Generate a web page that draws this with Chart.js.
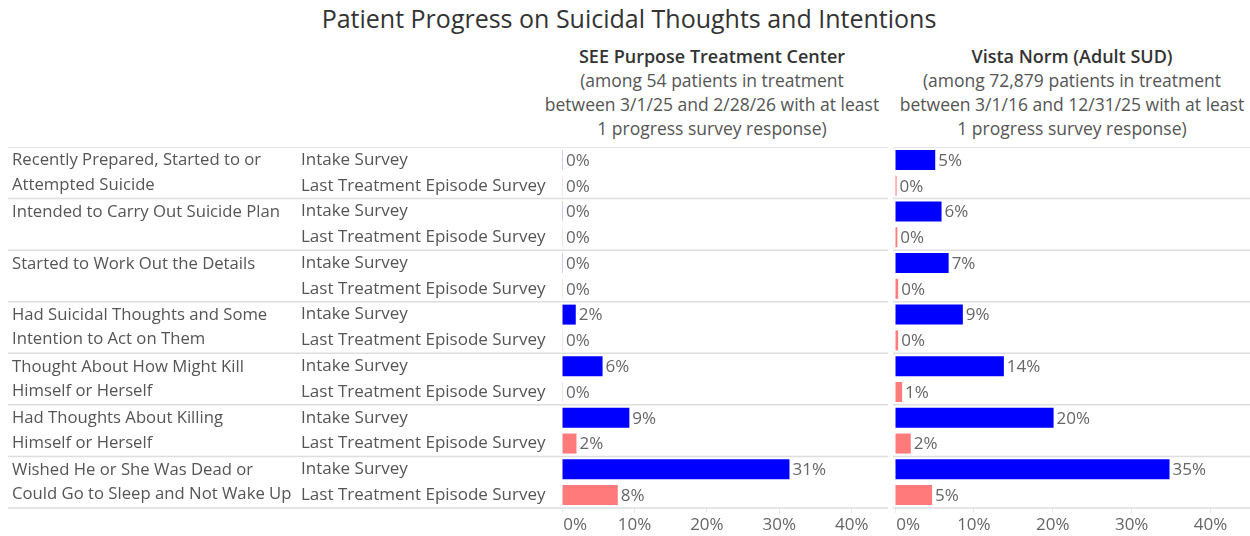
<!DOCTYPE html>
<html>
<head>
<meta charset="utf-8">
<script src="https://cdn.jsdelivr.net/npm/chart.js@4"></script>
<style>
  body { margin: 0; width: 1250px; height: 536px; background: #fff; font-family: "Open Sans", sans-serif; position: relative; overflow: hidden; }
  .title { position: absolute; left: 0; width: 1258px; top: 1px; text-align: center; font-size: 25px; color: #333; }
  .head { position: absolute; top: 44px; text-align: center; font-size: 17.5px; line-height: 24px; color: #555; }
  .head b { color: #333; font-weight: 600; font-size: 18px; }
  canvas { position: absolute; }
</style>
</head>
<body>
<div class="title">Patient Progress on Suicidal Thoughts and Intentions</div>
<div class="head" style="left:512px;width:400px"><b>SEE Purpose Treatment Center</b><br>(among 54 patients in treatment<br>between 3/1/25 and 2/28/26 with at least<br>1 progress survey response)</div>
<div class="head" style="left:872px;width:400px"><b>Vista Norm (Adult SUD)</b><br>(among 72,879 patients in treatment<br>between 3/1/16 and 12/31/25 with at least<br>1 progress survey response)</div>
<canvas id="left" width="880" height="391" style="left:8px;top:147px;width:880px;height:391px"></canvas>
<canvas id="right" width="410" height="391" style="left:840px;top:147px;width:410px;height:391px"></canvas>
<script>
// categories (split into display lines) and survey labels
const categories = [
  ["Recently Prepared, Started to or", "Attempted Suicide"],
  ["Intended to Carry Out Suicide Plan", ""],
  ["Started to Work Out the Details", ""],
  ["Had Suicidal Thoughts and Some", "Intention to Act on Them"],
  ["Thought About How Might Kill", "Himself or Herself"],
  ["Had Thoughts About Killing", "Himself or Herself"],
  ["Wished He or She Was Dead or", "Could Go to Sleep and Not Wake Up"]
]
const surveys = ["Intake Survey", "Last Treatment Episode Survey"]

// percent of patients
const seeIntake = [0, 0, 0, 1.9, 5.6, 9.3, 31.4]
const seeLast = [0, 0, 0, 0, 0, 2.0, 7.7]
const vistaIntake = [5.1, 5.9, 6.8, 8.6, 13.8, 20.1, 34.8]
const vistaLast = [0.2, 0.3, 0.4, 0.4, 0.9, 2.0, 4.7]

const xTicks = [0, 10, 20, 30, 40]
const xMax = 45

const BLUE = "#0000ff"
const PINK = "#ff7b7b"
const FONT = "'Open Sans', sans-serif"

// horizontal separators between category groups, drawn across the label columns too
const separators = {
  id: "separators",
  afterDraw(chart, args, opts) {
    const y = chart.scales.y
    const ctx = chart.ctx
    const n = chart.data.labels.length
    const step = n > 1 ? y.getPixelForValue(1) - y.getPixelForValue(0) : y.height
    ctx.save()
    ctx.strokeStyle = "#dedede"
    ctx.lineWidth = 1.5
    for (let i = 0; i <= n; i++) {
      const py = y.getPixelForValue(0) - step / 2 + i * step
      ctx.beginPath()
      ctx.moveTo(opts.from, py)
      ctx.lineTo(chart.width, py)
      ctx.stroke()
    }
    ctx.restore()
  },
}

// value labels to the right of each bar
const valueLabels = {
  id: "valueLabels",
  afterDatasetsDraw(chart) {
    const ctx = chart.ctx
    ctx.save()
    ctx.font = "17px " + FONT
    ctx.fillStyle = "#666"
    ctx.textBaseline = "middle"
    chart.data.datasets.forEach((ds, di) => {
      chart.getDatasetMeta(di).data.forEach((bar, i) => {
        ctx.fillText(Math.round(ds.data[i]) + "%", bar.x + 3, bar.y + 1)
      })
    })
    ctx.restore()
  },
}

function barColor(base, pale) {
  return (c) => (c.raw === 0 ? pale : base)
}

function noPad(width) {
  return (s) => {
    if (width !== undefined) s.width = width
    s.paddingTop = 0
    s.paddingBottom = 0
  }
}

function makeChart(id, intake, last, withLabels) {
  const scales = {
    x: {
      min: 0,
      max: xMax,
      afterBuildTicks: (s) => { s.ticks = xTicks.map((v) => ({ value: v })) },
      afterFit: (s) => { s.height = 30 },
      grid: { drawOnChartArea: false, drawTicks: true, tickLength: 5, color: "#e8e8e8" },
      border: { display: false },
      // first label sits just right of the zero line, like the original
      ticks: { callback: (v) => (v === 0 ? "      0%" : v + "%"), color: "#666", font: { family: FONT, size: 17 }, padding: 2, maxRotation: 0 },
    },
    y: {
      type: "category",
      offset: true,
      display: withLabels,
      weight: 1,
      grid: { display: false },
      border: { display: false },
      afterFit: noPad(withLabels ? 289 : 0),
      ticks: { crossAlign: "far", color: "#555", font: { family: FONT, size: 16.7, lineHeight: 1.45 }, padding: 0, autoSkip: false },
    },
  }
  if (withLabels) {
    scales.ySurvey = {
      type: "category",
      labels: categories.flatMap(() => surveys),
      offset: true,
      position: "left",
      weight: 0,
      grid: { display: false },
      border: { display: false },
      afterFit: noPad(261),
      ticks: { crossAlign: "far", color: "#555", font: { family: FONT, size: 17 }, padding: 0, autoSkip: false },
    }
  }
  return new Chart(document.getElementById(id), {
    type: "bar",
    data: {
      labels: categories,
      datasets: [
        { label: surveys[0], data: intake, backgroundColor: barColor(BLUE, "#9a9aff") },
        { label: surveys[1], data: last, backgroundColor: barColor(PINK, "#ffc4c4") },
      ],
    },
    options: {
      indexAxis: "y",
      responsive: false,
      animation: false,
      categoryPercentage: 1,
      barPercentage: 0.775,
      minBarLength: 1,
      layout: { padding: { left: withLabels ? 4 : 55, right: 0, top: 0, bottom: 0 } },
      plugins: {
        legend: { display: false },
        tooltip: { enabled: false },
        separators: { from: withLabels ? 0 : 53 },
      },
      scales,
    },
    plugins: [separators, valueLabels],
  })
}

makeChart("left", seeIntake, seeLast, true)
makeChart("right", vistaIntake, vistaLast, false)
</script>
</body>
</html>
